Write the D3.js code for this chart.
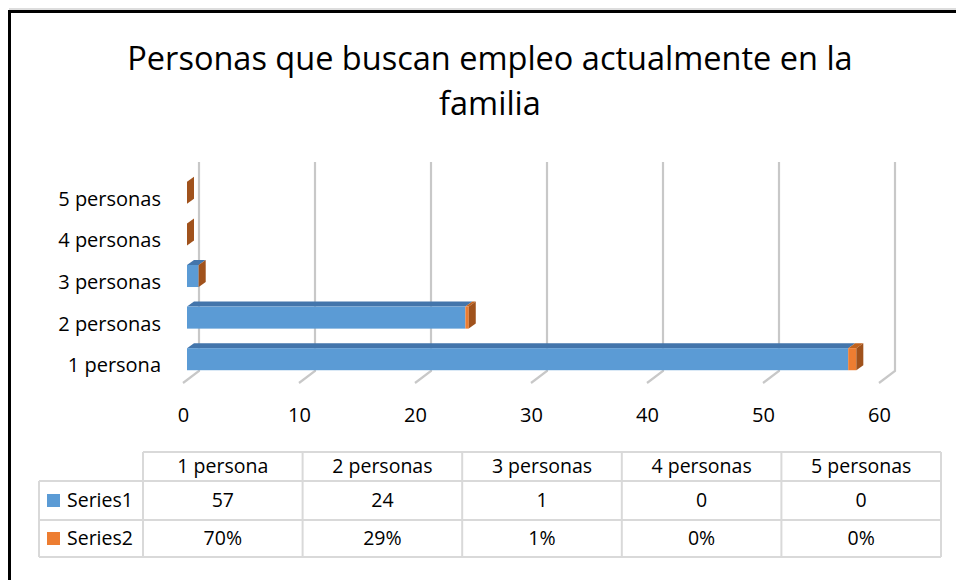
<!DOCTYPE html>
<html>
<head>
<meta charset="utf-8">
<script src="https://cdn.jsdelivr.net/npm/d3@7"></script>
<style>
  body { margin: 0; background: #fff; }
  svg { display: block; font-family: 'Open Sans', sans-serif; }
  .grid { stroke: #c8c8c8; stroke-width: 2.2; fill: none; }
  .tbl { stroke: #d9d9d9; stroke-width: 2; }
</style>
</head>
<body>
<svg id="chart"></svg>
<script>
const categories = ['1 persona', '2 personas', '3 personas', '4 personas', '5 personas'];
const series1 = [57, 24, 1, 0, 0];
const series2 = [0.70, 0.29, 0.01, 0, 0];
const seriesNames = ['Series1', 'Series2'];
const xTicks = [0, 10, 20, 30, 40, 50, 60];

const width = 956, height = 580;
const svg = d3.select('#chart').attr('width', width).attr('height', height);

// frame
svg.append('line').attr('x1', 9).attr('x2', width).attr('y1', 9).attr('y2', 9)
  .attr('stroke', '#bbb').attr('stroke-width', 1);
svg.append('path').attr('d', `M9.5,${height} V11.5 H${width}`)
  .attr('fill', 'none').attr('stroke', '#000').attr('stroke-width', 3);

// title (two lines)
svg.append('text').attr('text-anchor', 'middle').attr('font-size', 32.5).attr('fill', '#000')
  .attr('x', 490).attr('y', 70).text('Personas que buscan empleo actualmente en la');
svg.append('text').attr('text-anchor', 'middle').attr('font-size', 32.5).attr('fill', '#000')
  .attr('x', 490).attr('y', 115).text('familia');

// scales
const x = d3.scaleLinear().domain([0, 60]).range([183, 879]);
const y = d3.scaleBand().domain(categories.slice().reverse()).range([172, 380])
  .paddingInner(0.47).paddingOuter(0.235);

const back = { dx: 16, dy: -12 };   // floor front -> back wall
const barOff = 4;                   // bar front face shift
const side = { dx: 7, dy: -5 };     // bar depth
const wallTop = 162, wallBottom = 371;

// gridlines (back wall + floor)
svg.append('g').selectAll('path').data(xTicks).join('path')
  .attr('class', 'grid')
  .attr('d', d => `M${x(d) + back.dx},${wallTop} V${wallBottom} L${x(d)},${wallBottom - back.dy}`);

// x tick labels
const xAxisG = svg.append('g').attr('transform', 'translate(0,400)')
  .call(d3.axisBottom(x).tickValues(xTicks).tickSize(0).tickPadding(8));
xAxisG.select('.domain').remove();
xAxisG.selectAll('text').attr('font-size', 20).attr('fill', '#000').attr('font-family', "'Open Sans', sans-serif");

// category labels
svg.append('g').selectAll('text').data(categories).join('text')
  .attr('x', 161).attr('y', d => y(d) + y.bandwidth() / 2 + 6)
  .attr('dy', '0.35em').attr('text-anchor', 'end')
  .attr('font-size', 20).attr('fill', '#000').text(d => d);

// bars
const rows = categories.map((c, i) => ({ c, s1: series1[i], s2: series2[i] }));
const xb = v => x(v) + barOff;
const bars = svg.append('g');

const face = (g, x0, x1, yy, h, front, top) => {
  g.append('path')
    .attr('d', `M${x0},${yy} L${x0 + side.dx},${yy + side.dy} L${x1 + side.dx},${yy + side.dy} L${x1},${yy} Z`)
    .attr('fill', top);
  g.append('rect').attr('x', x0).attr('y', yy).attr('width', Math.max(0, x1 - x0)).attr('height', h)
    .attr('fill', front);
};

rows.forEach(r => {
  const g = bars.append('g');
  const yy = y(r.c), h = y.bandwidth();
  const a = xb(0), b = xb(r.s1), c = xb(r.s1 + r.s2);
  if (r.s1 > 0) face(g, a, b, yy, h, '#5b9bd5', '#4375ab');
  if (r.s2 > 0) face(g, b, c, yy, h, '#ed7d31', '#c0631f');
  // end cap (side face)
  g.append('path')
    .attr('d', `M${c},${yy} L${c + side.dx},${yy + side.dy} L${c + side.dx},${yy + h + side.dy} L${c},${yy + h} Z`)
    .attr('fill', '#a0521c');
});

// data table
const tx = d3.scaleBand().domain(categories).range([143, 941]);
const rowY = [452, 481, 520, 557];
const tLeft = 39;
const tbl = svg.append('g');
tbl.append('line').attr('class', 'tbl').attr('x1', 143).attr('x2', 941).attr('y1', rowY[0]).attr('y2', rowY[0]);
rowY.slice(1).forEach(v => tbl.append('line').attr('class', 'tbl')
  .attr('x1', tLeft).attr('x2', 941).attr('y1', v).attr('y2', v));
tbl.append('line').attr('class', 'tbl').attr('x1', tLeft).attr('x2', tLeft).attr('y1', rowY[1]).attr('y2', rowY[3]);
categories.concat(['end']).forEach((c, i) => {
  const xx = 143 + i * tx.bandwidth();
  tbl.append('line').attr('class', 'tbl').attr('x1', xx).attr('x2', xx).attr('y1', rowY[0]).attr('y2', rowY[3]);
});

const cellText = (xx, yy, t, anchor) => tbl.append('text')
  .attr('x', xx).attr('y', yy).attr('dy', '0.35em').attr('text-anchor', anchor || 'middle')
  .attr('font-size', 19.5).attr('fill', '#000').text(t);

const mid = i => (rowY[i] + rowY[i + 1]) / 2;
const pct = d3.format('.0%');
categories.forEach((c, i) => {
  const cx = tx(c) + tx.bandwidth() / 2;
  cellText(cx, mid(0), c);
  cellText(cx, mid(1), series1[i]);
  cellText(cx, mid(2), pct(series2[i]));
});

const legendColors = ['#5b9bd5', '#ed7d31'];
seriesNames.forEach((s, i) => {
  tbl.append('rect').attr('x', 47).attr('y', mid(i + 1) - 6.5).attr('width', 13).attr('height', 13)
    .attr('fill', legendColors[i]);
  cellText(67, mid(i + 1), s, 'start');
});
</script>
</body>
</html>
